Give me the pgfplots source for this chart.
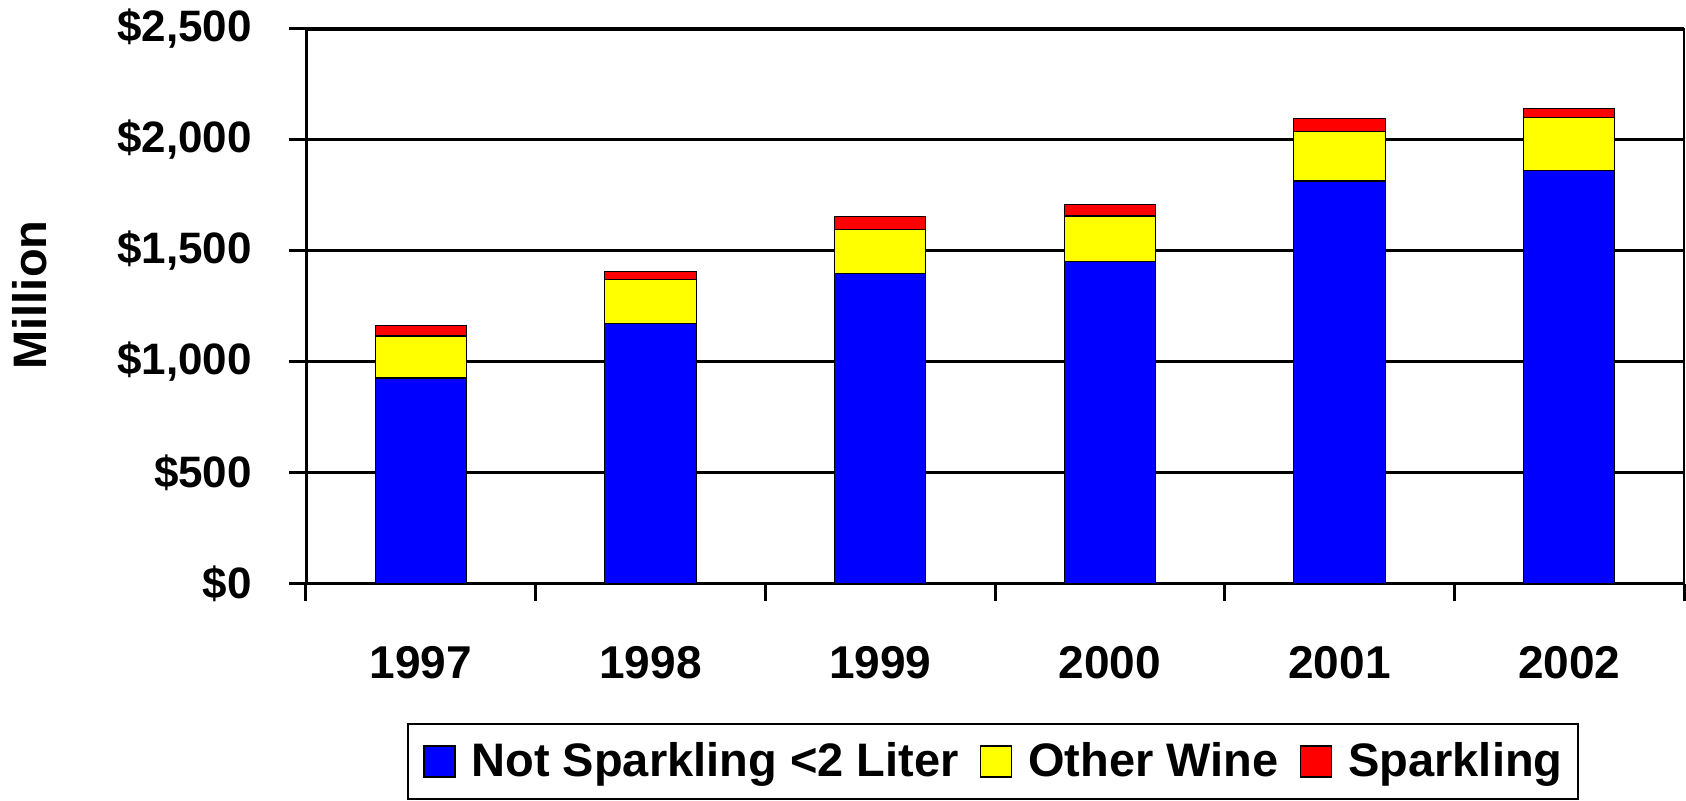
\documentclass[border=0pt]{standalone}
\usepackage{fontspec}
\setmainfont{Liberation Sans}
\usepackage{pgfplots}
\pgfplotsset{compat=1.18}
\definecolor{cblue}{HTML}{0000FF}
\definecolor{cyellow}{HTML}{FFFF00}
\definecolor{cred}{HTML}{FF0000}
\begin{document}
\begin{tikzpicture}
\begin{axis}[
  scale only axis,
  width=689pt, height=277.5pt,
  ybar stacked,
  bar width=45.7pt,
  xmin=-0.5, xmax=5.5,
  ymin=0, ymax=2500,
  xtick={0,1,2,3,4,5},
  xticklabels={1997,1998,1999,2000,2001,2002},
  minor xtick={-0.5,0.5,1.5,2.5,3.5,4.5,5.5},
  major x tick style={draw=none},
  ytick={0,500,1000,1500,2000,2500},
  yticklabels={\$0,\$500,{\$1,000},{\$1,500},{\$2,000},{\$2,500}},
  tick align=outside,
  tick pos=left,
  major tick length=8.5pt,
  minor tick length=8.5pt,
  tick style={black, line width=1.5pt},
  ymajorgrids,
  grid style={black, line width=1.5pt},
  axis line style={black, line width=0.6pt},
  yticklabel style={xshift=-15pt, font=\bfseries\fontsize{22}{26}\selectfont},
  xticklabel style={yshift=-19pt, font=\bfseries\fontsize{23}{27}\selectfont},
  ylabel={Million},
  ylabel style={at={(axis description cs:-0.2003,0.5207)}, anchor=center, font=\bfseries\fontsize{23.5}{27}\selectfont},
  legend columns=3,
  legend style={at={(axis description cs:0.4985,-0.3888)}, anchor=south,
    draw=black, line width=1pt, font=\bfseries\fontsize{23.5}{28}\selectfont,
    inner xsep=7.5pt, inner ysep=7.4pt,
    nodes={inner xsep=0pt},
    /tikz/every odd column/.append style={column sep=8pt},
    /tikz/every even column/.append style={column sep=10.75pt}},
  legend image code/.code={\draw[#1, line width=0.6pt, draw=black] (0pt,-7.75pt) rectangle (15.5pt,7.75pt);},
  every axis plot/.append style={draw=black, line width=0.6pt},
]
\addplot[fill=cblue] coordinates {(0,928) (1,1174) (2,1400) (3,1453) (4,1815) (5,1863)};
\addplot[fill=cyellow] coordinates {(0,189) (1,196) (2,198) (3,205) (4,224) (5,239)};
\addplot[fill=cred] coordinates {(0,49) (1,39) (2,56) (3,50) (4,58) (5,39)};
\legend{Not Sparkling <2 Liter, Other Wine, Sparkling}
\draw[black, line width=2pt] (rel axis cs:0,1) -- (rel axis cs:0,0) -- (rel axis cs:1,0);
\draw[black, line width=1.8pt] (rel axis cs:0,1) -- (rel axis cs:1,1);
\end{axis}
\pgfresetboundingbox
\path[use as bounding box] (-153pt,-108.5pt) rectangle (690pt,292pt);
\end{tikzpicture}
\end{document}
